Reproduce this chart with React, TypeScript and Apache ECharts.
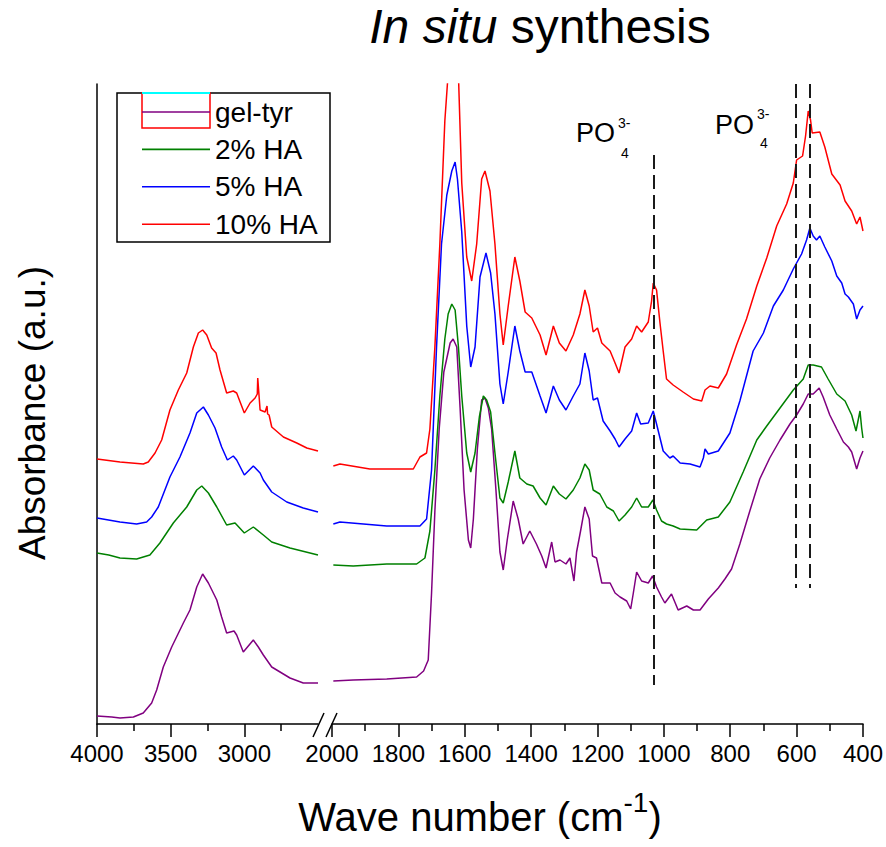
import React, { useEffect, useRef } from 'react';
import * as echarts from 'echarts';

const FONT = '"Liberation Sans", Arial, Helvetica, sans-serif';

const seriesNames = ['gel-tyr', '2% HA', '5% HA', '10% HA'];
const seriesColors = ['#800080', '#008000', '#0000ff', '#ff0000'];

// [wavenumber (cm-1), absorbance (a.u.)] — left segment 4000–2500
const gelTyrLeft = [[4000,0.08],[3900,0.07],[3844,0.06],[3753,0.07],[3686,0.11],[3629,0.21],[3595,0.34],[3550,0.57],[3493,0.77],[3414,1.01],[3369,1.14],[3323,1.37],[3283,1.50],[3244,1.41],[3187,1.24],[3154,1.07],[3120,0.91],[3070,0.93],[3052,0.89],[3007,0.72],[2939,0.84],[2905,0.77],[2871,0.69],[2814,0.57],[2690,0.46],[2600,0.41],[2500,0.41]];
const ha2Left = [[4000,1.71],[3920,1.69],[3844,1.66],[3731,1.65],[3641,1.69],[3573,1.81],[3482,2.01],[3391,2.17],[3323,2.34],[3289,2.38],[3244,2.31],[3187,2.17],[3120,1.99],[3063,2.01],[3000,1.91],[2939,1.97],[2871,1.89],[2814,1.82],[2690,1.76],[2500,1.69]];
const ha5Left = [[4000,2.06],[3844,2.02],[3731,2.00],[3663,2.02],[3629,2.07],[3584,2.17],[3505,2.47],[3437,2.67],[3369,2.91],[3323,3.11],[3278,3.17],[3244,3.09],[3199,2.96],[3154,2.77],[3115,2.64],[3075,2.68],[3052,2.64],[3000,2.49],[2939,2.58],[2893,2.51],[2871,2.44],[2814,2.32],[2712,2.22],[2600,2.16],[2500,2.12]];
const ha10Left = [[4000,2.65],[3844,2.62],[3686,2.60],[3652,2.62],[3606,2.71],[3561,2.84],[3505,3.14],[3448,3.34],[3391,3.51],[3346,3.77],[3312,3.91],[3283,3.94],[3255,3.89],[3222,3.76],[3192,3.71],[3165,3.54],[3120,3.31],[3075,3.33],[3052,3.31],[3000,3.11],[2961,3.21],[2927,3.26],[2912,3.30],[2909,3.46],[2903,3.34],[2893,3.14],[2859,3.12],[2846,3.18],[2842,3.10],[2832,3.09],[2814,2.97],[2735,2.87],[2644,2.81],[2576,2.76],[2500,2.73]];

// right segment 2000–400
const gelTyrRight = [[1996,0.43],[1936,0.44],[1835,0.45],[1745,0.47],[1724,0.53],[1710,0.64],[1700,1.31],[1690,2.13],[1677,2.95],[1663,3.52],[1644,3.81],[1635,3.85],[1624,3.77],[1614,3.16],[1602,2.34],[1589,1.84],[1582,1.76],[1574,2.05],[1562,2.75],[1549,3.24],[1539,3.26],[1529,3.16],[1519,2.95],[1506,2.34],[1494,1.72],[1484,1.54],[1472,1.84],[1454,2.23],[1439,2.05],[1424,1.80],[1404,1.93],[1384,1.80],[1368,1.68],[1355,1.56],[1338,1.82],[1328,1.62],[1313,1.64],[1295,1.60],[1283,1.66],[1271,1.43],[1263,1.72],[1251,1.93],[1238,2.17],[1225,2.05],[1215,1.68],[1203,1.66],[1187,1.41],[1162,1.41],[1147,1.31],[1132,1.27],[1112,1.23],[1100,1.15],[1092,1.31],[1082,1.52],[1067,1.43],[1047,1.41],[1034,1.48],[1022,1.37],[1007,1.27],[997,1.21],[977,1.30],[957,1.14],[931,1.18],[911,1.14],[891,1.14],[866,1.25],[836,1.36],[816,1.45],[796,1.55],[771,1.80],[741,2.13],[711,2.45],[681,2.66],[650,2.84],[620,3.00],[600,3.09],[580,3.20],[565,3.30],[550,3.30],[532,3.36],[520,3.27],[500,3.09],[479,2.95],[459,2.82],[444,2.77],[434,2.72],[419,2.55],[409,2.66],[400,2.73]];
const ha2Right = [[1996,1.59],[1936,1.58],[1835,1.60],[1745,1.60],[1720,1.66],[1705,1.93],[1690,2.54],[1675,3.28],[1660,3.85],[1650,4.10],[1639,4.20],[1629,4.14],[1619,3.77],[1609,3.28],[1594,2.71],[1582,2.52],[1569,2.71],[1556,3.07],[1544,3.28],[1534,3.24],[1522,3.12],[1509,2.71],[1494,2.26],[1484,2.21],[1469,2.42],[1449,2.73],[1434,2.46],[1413,2.40],[1394,2.38],[1373,2.26],[1355,2.19],[1333,2.38],[1315,2.30],[1295,2.25],[1273,2.34],[1253,2.46],[1238,2.60],[1225,2.54],[1213,2.34],[1193,2.30],[1172,2.17],[1152,2.13],[1135,2.03],[1117,2.09],[1097,2.17],[1082,2.26],[1067,2.17],[1047,2.17],[1033,2.24],[1022,2.14],[1007,2.03],[992,2.00],[972,1.98],[951,1.95],[901,1.94],[871,2.04],[836,2.07],[801,2.22],[761,2.52],[720,2.84],[690,2.98],[650,3.16],[610,3.34],[580,3.45],[565,3.59],[550,3.59],[525,3.57],[505,3.45],[479,3.30],[454,3.23],[434,3.09],[421,2.93],[409,3.13],[404,2.96],[400,2.86]];
const ha5Right = [[1996,2.00],[1976,2.02],[1835,1.98],[1735,1.98],[1715,2.05],[1700,2.54],[1685,3.77],[1670,4.80],[1654,5.29],[1639,5.53],[1629,5.62],[1622,5.45],[1609,4.92],[1594,3.98],[1582,3.57],[1569,3.77],[1554,4.47],[1536,4.71],[1522,4.51],[1509,4.10],[1494,3.40],[1484,3.20],[1469,3.52],[1449,3.98],[1434,3.73],[1418,3.52],[1398,3.52],[1373,3.28],[1355,3.11],[1333,3.38],[1315,3.24],[1295,3.14],[1273,3.28],[1253,3.40],[1238,3.71],[1225,3.53],[1213,3.24],[1200,3.26],[1183,3.03],[1162,2.93],[1147,2.85],[1135,2.77],[1117,2.85],[1097,2.93],[1082,3.11],[1070,3.00],[1047,3.01],[1032,3.13],[1022,3.00],[1002,2.73],[982,2.66],[972,2.68],[951,2.61],[921,2.60],[891,2.57],[881,2.66],[876,2.75],[866,2.70],[836,2.73],[801,2.91],[771,3.23],[731,3.73],[700,3.91],[670,4.18],[640,4.34],[610,4.55],[585,4.70],[570,4.84],[560,4.96],[550,4.88],[540,4.84],[530,4.88],[515,4.77],[494,4.63],[479,4.48],[464,4.41],[454,4.30],[444,4.27],[429,4.20],[419,4.05],[409,4.14],[400,4.18]];
const ha10Right = [[1996,2.58],[1976,2.60],[1886,2.55],[1755,2.55],[1735,2.67],[1715,2.71],[1705,2.95],[1690,3.77],[1675,4.80],[1660,6.03],[1648,6.6],[1634,6.9],[1620,6.6],[1609,5.41],[1594,4.67],[1579,4.43],[1564,4.80],[1549,5.45],[1539,5.53],[1524,5.33],[1509,4.80],[1494,4.10],[1484,3.79],[1469,4.18],[1449,4.67],[1434,4.43],[1418,4.12],[1398,4.06],[1373,3.89],[1355,3.69],[1333,3.98],[1315,3.81],[1295,3.73],[1273,3.89],[1253,4.10],[1238,4.34],[1225,4.18],[1213,3.92],[1200,3.96],[1187,3.81],[1162,3.73],[1147,3.61],[1135,3.51],[1117,3.77],[1097,3.85],[1082,3.98],[1067,3.92],[1047,4.02],[1037,4.23],[1032,4.41],[1022,4.34],[1012,4.02],[1002,3.73],[992,3.45],[972,3.39],[942,3.32],[911,3.25],[886,3.23],[876,3.34],[861,3.38],[836,3.36],[811,3.50],[781,3.79],[751,4.05],[720,4.38],[690,4.66],[660,4.98],[630,5.20],[610,5.41],[600,5.64],[582,5.68],[573,5.88],[565,6.13],[558,6.04],[553,5.91],[530,5.92],[515,5.77],[494,5.50],[469,5.39],[454,5.23],[434,5.13],[419,5.00],[409,5.07],[400,4.93]];

const leftData = [gelTyrLeft, ha2Left, ha5Left, ha10Left];
const rightData = [gelTyrRight, ha2Right, ha5Right, ha10Right];

// PO4(3-) band positions, cm-1, with the [top, bottom] absorbance extent of each guide
const po4Bands = [1030, 603, 561];
const po4Extents = [[5.69, 0.39], [6.4, 1.36], [6.4, 1.36]];

const leftTickLabels = [3000, 3500, 4000];

export default function App() {
  const ref = useRef<HTMLDivElement>(null);
  useEffect(() => {
    if (!ref.current) return;
    const chart = echarts.init(ref.current, undefined, { renderer: 'svg' });
    const axisLineStyle = { color: '#000', width: 1.5 };
    const labelStyle = { fontSize: 24, color: '#000', fontFamily: FONT, margin: 17 };

    const series: any[] = [];
    seriesNames.forEach((name, i) => {
      series.push({
        name, type: 'line', xAxisIndex: 0, yAxisIndex: 0, data: leftData[i],
        symbol: 'none', showSymbol: false, clip: true,
        lineStyle: { color: seriesColors[i], width: 1.5 }, itemStyle: { color: seriesColors[i] },
      });
    });
    seriesNames.forEach((name, i) => {
      const s: any = {
        name, type: 'line', xAxisIndex: 1, yAxisIndex: 1, data: rightData[i],
        symbol: 'none', showSymbol: false, clip: true,
        lineStyle: { color: seriesColors[i], width: 1.5 }, itemStyle: { color: seriesColors[i] },
      };
      if (i === 0) {
        s.markLine = {
          silent: true, animation: false, symbol: ['none', 'none'], label: { show: false },
          lineStyle: { color: '#1a1a1a', width: 2, type: [14, 6] },
          data: po4Bands.map((b, k) => [{ coord: [b, po4Extents[k][0]] }, { coord: [b, po4Extents[k][1]] }]),
        };
      }
      series.push(s);
    });

    const po4 = (x: number, y: number, supY: number, subY: number) => [
      { type: 'text', x, y, style: { text: 'PO', font: `27px ${FONT}`, fill: '#000', textVerticalAlign: 'middle' } },
      { type: 'text', x: x + 42, y: supY, style: { text: '3-', font: `14px ${FONT}`, fill: '#000', textVerticalAlign: 'middle' } },
      { type: 'text', x: x + 45, y: subY, style: { text: '4', font: `14px ${FONT}`, fill: '#000', textVerticalAlign: 'middle' } },
    ];

    const option: any = {
      animation: false,
      backgroundColor: '#fff',
      title: {
        text: '{i|In situ} {n|synthesis}', left: 540, top: 2, padding: 0, textAlign: 'center',
        textStyle: {
          fontSize: 48, lineHeight: 48, fontWeight: 'normal', color: '#000', fontFamily: FONT,
          rich: {
            i: { fontSize: 48, lineHeight: 48, fontStyle: 'italic', color: '#000', fontFamily: FONT },
            n: { fontSize: 48, lineHeight: 48, color: '#000', fontFamily: FONT },
          },
        },
      },
      legend: {
        data: seriesNames, orient: 'vertical', left: 142, top: 97, padding: 0,
        icon: 'rect', itemWidth: 68, itemHeight: 1.6, itemGap: 7.4, selectedMode: false,
        textStyle: { fontSize: 28, lineHeight: 30, color: '#000', fontFamily: FONT },
      },
      grid: [
        { left: 97, top: 84, width: 221, height: 640 },
        { left: 332, top: 84, width: 531, height: 640 },
      ],
      xAxis: [
        {
          gridIndex: 0, type: 'value', min: 2500, max: 4000, interval: 500, inverse: true,
          axisLine: { onZero: false, lineStyle: axisLineStyle },
          axisTick: { length: 13, lineStyle: axisLineStyle, customValues: leftTickLabels },
          minorTick: { show: true, splitNumber: 2, length: 7, lineStyle: axisLineStyle },
          axisLabel: { ...labelStyle, customValues: leftTickLabels, formatter: (v: number) => (v === 2500 ? '' : String(v)) },
          splitLine: { show: false }, minorSplitLine: { show: false },
        },
        {
          gridIndex: 1, type: 'value', min: 400, max: 2000, interval: 200, inverse: true,
          axisLine: { onZero: false, lineStyle: axisLineStyle },
          axisTick: { length: 13, lineStyle: axisLineStyle },
          minorTick: { show: true, splitNumber: 2, length: 7, lineStyle: axisLineStyle },
          axisLabel: { ...labelStyle, formatter: (v: number) => String(v) },
          splitLine: { show: false }, minorSplitLine: { show: false },
          name: '{a|Wave number (cm}{s|-1}{a|)}', nameLocation: 'middle', nameGap: 64,
          nameTextStyle: {
            padding: [0, 235, 0, 0], color: '#000', fontFamily: FONT, fontSize: 40,
            rich: {
              a: { fontSize: 40, lineHeight: 58, color: '#000', fontFamily: FONT },
              s: { fontSize: 28, lineHeight: 30, verticalAlign: 'top', color: '#000', fontFamily: FONT },
            },
          },
        },
      ],
      yAxis: [
        {
          gridIndex: 0, type: 'value', min: 0, max: 6.4,
          axisLine: { show: true, onZero: false, lineStyle: axisLineStyle },
          axisTick: { show: false }, axisLabel: { show: false }, splitLine: { show: false },
          name: 'Absorbance (a.u.)', nameLocation: 'middle', nameGap: 46,
          nameTextStyle: { fontSize: 37, color: '#000', fontFamily: FONT, padding: [0, 18, 0, 0] },
        },
        { gridIndex: 1, type: 'value', min: 0, max: 6.4, show: false },
      ],
      graphic: [
        { type: 'line', shape: { x1: 313, y1: 737, x2: 324, y2: 713 }, style: { stroke: '#000', lineWidth: 1.5 } },
        { type: 'line', shape: { x1: 326, y1: 737, x2: 337, y2: 713 }, style: { stroke: '#000', lineWidth: 1.5 } },
        { type: 'rect', shape: { x: 117, y: 93, width: 213, height: 149 }, style: { fill: 'none', stroke: '#000', lineWidth: 1.5 } },
        { type: 'rect', shape: { x: 142, y: 93, width: 68, height: 35 }, style: { fill: 'none', stroke: '#ff0000', lineWidth: 1.5 } },
        { type: 'line', shape: { x1: 142, y1: 93, x2: 210, y2: 93 }, style: { stroke: '#00ffff', lineWidth: 2 } },
        ...po4(576, 133, 123, 153),
        ...po4(715, 125, 114, 143),
      ],
      series,
    };
    chart.setOption(option);
    return () => chart.dispose();
  }, []);
  return <div ref={ref} style={{ position: 'absolute', left: 0, top: 0, width: 886, height: 847, background: '#fff' }} />;
}
